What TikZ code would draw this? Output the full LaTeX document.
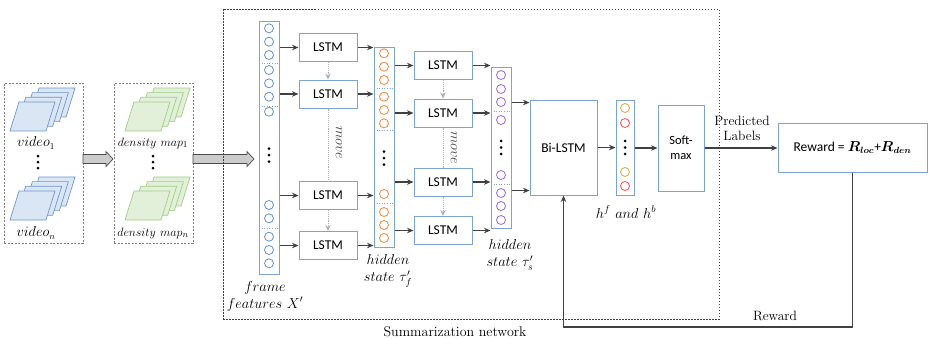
\documentclass[tikz,border=0pt]{standalone}
\usepackage{fontspec}
\usepackage{bm}
\setsansfont{Carlito}
\usetikzlibrary{arrows.meta,calc}
\definecolor{boxblue}{RGB}{125,163,209}
\definecolor{cblue}{RGB}{95,145,205}
\definecolor{corange}{RGB}{235,135,60}
\definecolor{cpurple}{RGB}{160,100,210}
\definecolor{cgold}{RGB}{210,170,70}
\definecolor{cred}{RGB}{240,80,80}
\definecolor{arrgray}{RGB}{64,64,64}
\definecolor{dotgray}{RGB}{175,175,175}
\definecolor{vfill}{RGB}{218,230,244}
\definecolor{vdraw}{RGB}{110,150,205}
\definecolor{gfill}{RGB}{226,240,217}
\definecolor{gdraw}{RGB}{160,205,135}
\newcommand\sheets[4]{%
  \foreach \k in {3,2,1,0}{
    \draw[draw=#4, fill=#3, line width=0.7pt] ({#1+6.7*\k},{#2-4.7*\k}) -- ++(36,0) -- ++(9,-29) -- ++(-36,0) -- cycle;
  }}
\newcommand\blockarr[2]{%
  \draw[draw=gray!60!black, fill=gray!40, line width=0.7pt] let \p1=(#1), \p2=(#2) in
  (\x1,\y1+4.5pt) -- (\x2-7pt,\y1+4.5pt) -- (\x2-7pt,\y1+7.5pt) -- (\x2,\y1) -- (\x2-7pt,\y1-7.5pt) -- (\x2-7pt,\y1-4.5pt) -- (\x1,\y1-4.5pt) -- cycle;}
\begin{document}
\begin{tikzpicture}[x=1pt,y=-1pt,
  lstm/.style={draw=boxblue, line width=1pt, minimum width=58pt, minimum height=28pt, inner sep=0pt, font=\sffamily\fontsize{13.5}{15}\selectfont},
  colbox/.style={draw=boxblue, line width=1pt, minimum width=20pt, inner sep=0pt},
  circ/.style={circle, draw=#1, line width=0.8pt, minimum size=9pt, inner sep=0pt},
  sep/.style={boxblue, dotted, line width=0.6pt},
  arr/.style={arrgray, line width=1.1pt, -{Stealth[length=6.5pt,width=5.5pt]}},
  darr/.style={dotgray, densely dotted, line width=0.9pt, -{Stealth[length=6pt,width=5.5pt]}},
  dline/.style={dotgray, densely dotted, line width=0.9pt},
  lab/.style={font=\fontsize{14.5}{17}\selectfont, inner sep=0pt},
  slab/.style={font=\fontsize{13.5}{15}\selectfont, inner sep=0pt},
  dotc/.style={circle, fill=black, minimum size=3pt, inner sep=0pt}
]
\useasboundingbox (0,0) rectangle (929,338);

% ---------- input boxes ----------
\node[draw=gray, dash pattern=on 2pt off 1.5pt, line width=0.6pt, minimum width=79pt, minimum height=160pt] (VB) at (43.5,163) {};
\node[draw=gray, dash pattern=on 2pt off 1.5pt, line width=0.6pt, minimum width=79pt, minimum height=160pt] (DB) at (153.5,163) {};
\sheets{10}{131}{vfill}{vdraw}
\sheets{10}{220}{vfill}{vdraw}
\sheets{125}{131}{gfill}{gdraw}
\sheets{125}{220}{gfill}{gdraw}
\node[slab] (v1) at (36,143) {$video_1$};
\node[slab] (vn) at (36,233) {$video_n$};
\node[slab, font=\fontsize{13}{15}\selectfont] (d1) at (153,143) {$density\ map_1$};
\node[slab, font=\fontsize{13}{15}\selectfont] (dn) at (153,233) {$density\ map_n$};
\foreach \y [count=\i] in {156,162,168} {\node[dotc] (vd\i) at (38,\y) {}; \node[dotc] (dd\i) at (153,\y) {};}

\coordinate (ba1s) at (83,159);
\coordinate (ba1e) at (113,159);
\coordinate (ba2s) at (193,159);
\coordinate (ba2e) at (254,159);
\blockarr{ba1s}{ba1e}
\blockarr{ba2s}{ba2e}

% ---------- summarization network ----------
\node[draw=arrgray, dash pattern=on 1.5pt off 1.5pt, line width=0.7pt, minimum width=496pt, minimum height=310pt] (SN) at (471,164) {};
\node[lab, font=\fontsize{14}{16}\selectfont] (snl) at (455,332) {Summarization network};

% frame features column
\node[colbox, minimum height=253pt] (fcol) at (269,147.5) {};
\foreach \y [count=\i] in {28.3,41.7,55,70,83.3,96.7,111.7,205,218.3,236.7,250,263.3} \node[circ=cblue] (fc\i) at (269,\y) {};
\foreach \y in {63.3,106,228.3} \draw[sep] (259,\y) -- (279,\y);
\foreach \y [count=\i] in {148.5,155,161.5} \node[dotc] (fd\i) at (269,\y) {};

% LSTM column 1
\node[lstm] (L11) at (328,47.5) {LSTM};
\node[lstm] (L12) at (328,94) {LSTM};
\node[lstm] (L13) at (328,195.5) {LSTM};
\node[lstm] (L14) at (328,245.5) {LSTM};
\draw[darr] (L11) -- (L12);
\draw[dline] (L12) -- (L13);
\draw[darr] (L13) -- (L14);
\node[slab, rotate=-90, text=arrgray] (mv1) at (339,143) {$move$};

% orange column
\node[colbox, minimum height=200pt] (ocol) at (384,147) {};
\foreach \y [count=\i] in {53.3,66.7,80,96.7,110,123.3,194,212,225,238} \node[circ=corange] (oc\i) at (384,\y) {};
\foreach \y in {88.3,130.7,203} \draw[sep] (374,\y) -- (394,\y);
\foreach \y [count=\i] in {151.5,158,164.5} \node[dotc] (od\i) at (384,\y) {};

\foreach \n in {L11,L12,L13,L14} {
  \draw[arr] (fcol.east |- \n.west) -- (\n.west);
  \draw[arr] (\n.east) -- (\n.east -| ocol.west);
}

% LSTM column 2
\node[lstm] (L21) at (443,65.5) {LSTM};
\node[lstm] (L22) at (443,113) {LSTM};
\node[lstm] (L23) at (443,182) {LSTM};
\node[lstm] (L24) at (443,230.5) {LSTM};
\draw[darr] (L21) -- (L22);
\draw[dline] (L22) -- (L23);
\draw[darr] (L23) -- (L24);
\node[slab, rotate=-90, text=arrgray] (mv2) at (454,148) {$move$};

% purple column
\node[colbox, minimum height=161pt] (pcol) at (501,147.5) {};
\foreach \y [count=\i] in {75,89,102,120,175,193,206,220} \node[circ=cpurple] (pc\i) at (501,\y) {};
\foreach \y in {111,184} \draw[sep] (491,\y) -- (511,\y);
\foreach \y [count=\i] in {141,147.5,154} \node[dotc] (pd\i) at (501,\y) {};

\foreach \n in {L21,L22,L23,L24} {
  \draw[arr] (ocol.east |- \n.west) -- (\n.west);
  \draw[arr] (\n.east) -- (\n.east -| pcol.west);
}

% Bi-LSTM
\node[lstm, minimum width=67pt, minimum height=95pt] (BL) at (563.5,147.5) {Bi-LSTM};
\coordinate (bl1) at ($(BL.north west)+(0,3)$);
\coordinate (bl2) at ($(BL.south west)+(0,-5)$);
\draw[arr] (pcol.east |- bl1) -- (bl1);
\draw[arr] (pcol.east |- bl2) -- (bl2);

% h column
\node[colbox, minimum width=18pt, minimum height=95pt] (hcol) at (625,147.5) {};
\node[circ=cgold] (h1) at (625,108) {};
\node[circ=cred] (h2) at (625,123) {};
\node[circ=cgold] (h3) at (625,172) {};
\node[circ=cred] (h4) at (625,186) {};
\foreach \y [count=\i] in {141,147.5,154} \node[dotc] (hd\i) at (625,\y) {};
\draw[arr] (BL.east) -- (BL.east -| hcol.west);

% Softmax
\node[lstm, minimum width=46pt, minimum height=86pt, align=center, font=\sffamily\fontsize{12.5}{15}\selectfont] (SM) at (681,148) {Soft-\\max};
\draw[arr] (hcol.east |- SM.west) -- (SM.west);

% Reward
\node[lstm, minimum width=149pt, minimum height=49pt] (RW) at (852.5,147.5) {Reward = $\bm{R_{loc}}$+$\bm{R_{den}}$};
\draw[arr] (SM.east) -- (SM.east -| RW.west);
\node[slab, align=center, font=\fontsize{13.5}{15}\selectfont] (pl) at (742,128) {Predicted\\Labels};

\coordinate (fb) at (700,327);
\draw[arr] (RW.south) |- (fb) -| (BL.south);
\node[slab, font=\fontsize{13.5}{15}\selectfont] (rl) at (775,316) {Reward};

% labels
\node[lab, align=center, font=\fontsize{14.5}{17}\selectfont] (lf) at (265,296) {$frame$\\$features\ X'$};
\node[lab, align=center, font=\fontsize{14.5}{17}\selectfont] (lo) at (388,271) {$hidden$\\$state\ \tau_f'$};
\node[lab, align=center, font=\fontsize{14.5}{17}\selectfont] (lp) at (510,255) {$hidden$\\$state\ \tau_s'$};
\node[lab] (lh) at (626,212) {$h^f\ and\ h^b$};
\end{tikzpicture}
\end{document}
